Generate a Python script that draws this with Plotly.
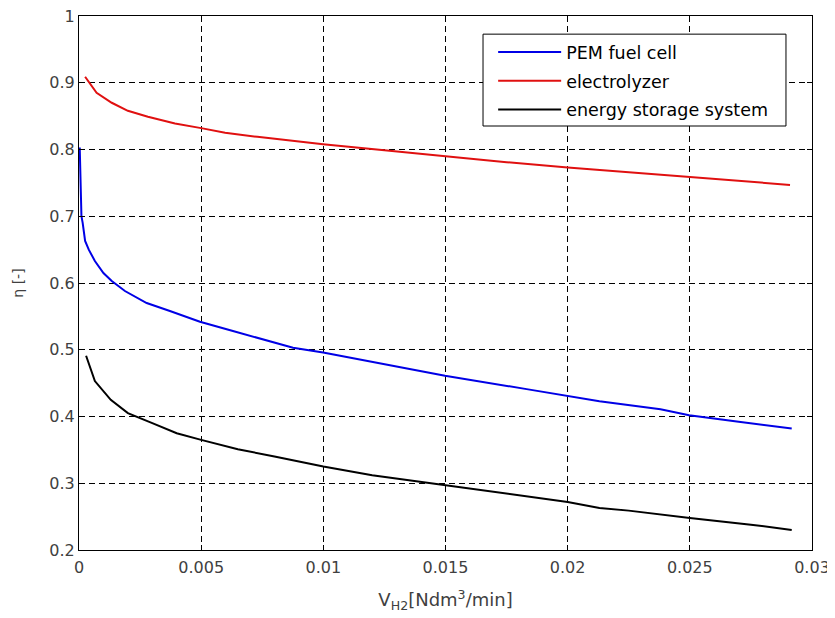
import plotly.graph_objects as go

# Data
fc_x = [0.00003, 0.00005, 0.00008, 0.00010, 0.00015, 0.00025, 0.00040, 0.00065, 0.00100, 0.00134,
        0.00188, 0.00277, 0.00372, 0.00495, 0.00630, 0.00782, 0.00876, 0.00999, 0.01183,
        0.01498, 0.01832, 0.02000, 0.02130, 0.02380, 0.02497, 0.02700, 0.02917]
fc_y = [0.803, 0.765, 0.745, 0.700, 0.690, 0.663, 0.650, 0.633, 0.615, 0.603,
        0.588, 0.570, 0.558, 0.542, 0.528, 0.513, 0.503, 0.496, 0.483,
        0.461, 0.441, 0.431, 0.423, 0.411, 0.402, 0.392, 0.382]

el_x = [0.00025, 0.00072, 0.00134, 0.00200, 0.00282, 0.00393, 0.00500, 0.00598, 0.00730,
        0.00870, 0.00999, 0.01250, 0.01498, 0.01750, 0.02000, 0.02250, 0.02493, 0.02700, 0.02910]
el_y = [0.909, 0.885, 0.870, 0.858, 0.849, 0.839, 0.832, 0.825, 0.819,
        0.813, 0.808, 0.799, 0.790, 0.781, 0.773, 0.766, 0.759, 0.753, 0.747]

ess_x = [0.00029, 0.00065, 0.00130, 0.00200, 0.00300, 0.00400, 0.00500, 0.00650, 0.00800,
         0.01000, 0.01200, 0.01500, 0.01750, 0.02000, 0.02130, 0.02250, 0.02500, 0.02750, 0.02917]
ess_y = [0.491, 0.453, 0.425, 0.405, 0.390, 0.375, 0.365, 0.351, 0.340,
         0.325, 0.312, 0.297, 0.285, 0.272, 0.263, 0.259, 0.248, 0.238, 0.230]

series_names = ["PEM fuel cell", "electrolyzer", "energy storage system"]
x_ticks = [0, 0.005, 0.01, 0.015, 0.02, 0.025, 0.03]
x_tick_text = ["0", "0.005", "0.01", "0.015", "0.02", "0.025", "0.03"]
y_ticks = [0.2, 0.3, 0.4, 0.5, 0.6, 0.7, 0.8, 0.9, 1.0]
y_tick_text = ["0.2", "0.3", "0.4", "0.5", "0.6", "0.7", "0.8", "0.9", "1"]

fig = go.Figure()
fig.add_trace(go.Scatter(x=fc_x, y=fc_y, mode="lines", name=series_names[0], legendgroup="a",
                         line=dict(color="#0000e6", width=2)))
fig.add_trace(go.Scatter(x=el_x, y=el_y, mode="lines", name=series_names[1], legendgroup="b",
                         line=dict(color="#e01010", width=2)))
fig.add_trace(go.Scatter(x=ess_x, y=ess_y, mode="lines", name=series_names[2], legendgroup="c",
                         line=dict(color="#000000", width=2)))

font_family = "DejaVu Sans, Arial, sans-serif"
axis_common = dict(
    showline=True, linecolor="black", linewidth=1, mirror="ticks",
    ticks="inside", ticklen=5, tickcolor="black",
    showgrid=True, gridcolor="black", griddash="6px,4px", gridwidth=1,
    zeroline=False, automargin=False, ticklabeloverflow="allow",
    tickfont=dict(family=font_family, size=16, color="#404040"),
)

fig.update_xaxes(range=[0, 0.03], tickvals=x_ticks, ticktext=x_tick_text,
                 ticklabelstandoff=3,
                 title=dict(text="V<sub>H2</sub>[Ndm<sup>3</sup>/min]",
                            font=dict(family=font_family, size=18, color="#404040"),
                            standoff=17),
                 **axis_common)
fig.update_yaxes(range=[0.2, 1.0], tickvals=y_ticks, ticktext=y_tick_text,
                 title=dict(text="η [-]",
                            font=dict(family=font_family, size=14, color="#404040"),
                            standoff=22),
                 **axis_common)

# Legend frame drawn as a box in plot-area coordinates (hides the grid behind it)
fig.add_shape(type="rect", xref="paper", yref="paper",
              x0=0.5512, x1=0.9645, y0=0.794, y1=0.966,
              line=dict(color="black", width=1), fillcolor="white", layer="above")

# The page body has an 8px default margin, so the figure is shrunk and shifted to match.
fig.update_layout(
    width=827, height=610,
    margin=dict(l=71, r=23, t=8, b=68, autoexpand=False),
    paper_bgcolor="white", plot_bgcolor="white",
    font=dict(family=font_family, size=16, color="black"),
    showlegend=True,
    legend=dict(x=0.565, y=0.966, xanchor="left", yanchor="top",
                bgcolor="rgba(0,0,0,0)", borderwidth=0,
                itemwidth=63, font=dict(family=font_family, size=17.5, color="black"),
                tracegroupgap=3),
)

fig.write_html("out.html")
